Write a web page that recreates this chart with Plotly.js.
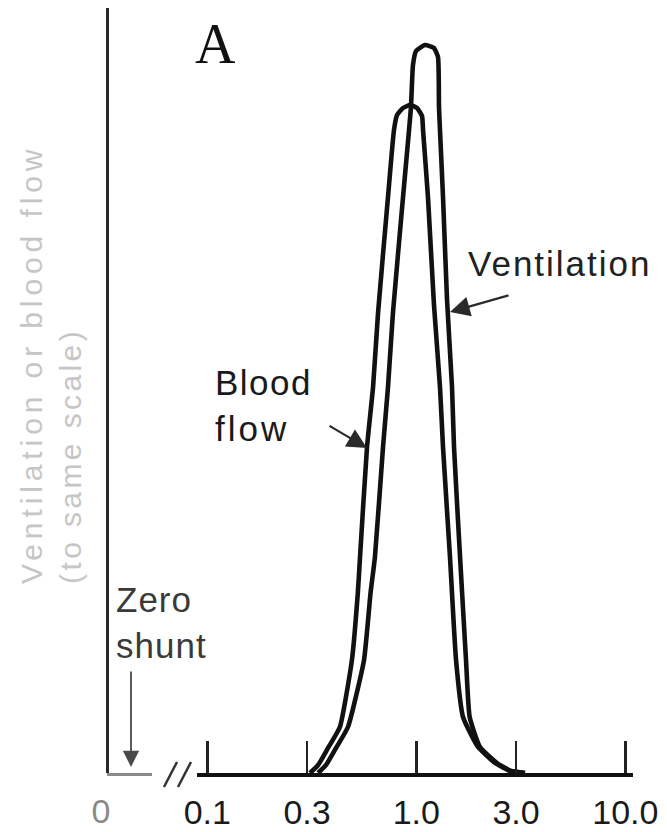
<!DOCTYPE html>
<html>
<head>
<meta charset="utf-8">
<script src="https://cdn.plot.ly/plotly-3.0.1.min.js"></script>
<style>
  html, body { margin: 0; padding: 0; background: #ffffff; }
  #chart { width: 667px; height: 832px; }
</style>
</head>
<body>
<div id="chart"></div>
<script>
// ---- Data ----
// x: ventilation-perfusion ratio (log scale); y: ventilation or blood flow (same arbitrary scale)
const ratioTickValues = [0.1, 0.3, 1, 3, 10];
const ratioTickLabels = ['0.1', '0.3', '1.0', '3.0', '10.0'];
const zeroTickValues = [0];
const zeroTickLabels = ['0'];

const bloodFlowRatio = [0.310, 0.339, 0.378, 0.431, 0.492, 0.525, 0.538, 0.581, 0.621,
                        0.656, 0.732, 0.782, 0.809, 0.864, 0.933, 1.008, 1.065, 1.077, 1.137,
                        1.215, 1.298, 1.342, 1.449, 1.549, 1.673, 1.974, 2.380, 2.808, 3.312];
const bloodFlowValue = [0, 1.05, 3.27, 6.01, 14.77, 23.53, 28.24, 42.61, 50.46,
                        60.13, 75.29, 84.05, 86.01, 86.93, 87.32, 86.93, 85.88, 84.05, 75.29,
                        61.18, 50.46, 42.61, 28.24, 14.77, 7.32, 3.40, 1.31, 0.26, 0];

const ventilationRatio = [0.339, 0.370, 0.413, 0.471, 0.562, 0.604, 0.634, 0.693, 0.732,
                          0.773, 0.864, 0.923, 0.943, 0.964, 0.997, 1.101, 1.215, 1.270, 1.284,
                          1.298, 1.342, 1.403, 1.482, 1.515, 1.619, 1.729, 1.800, 2.017, 2.433,
                          2.839, 3.312];
const ventilationValue = [0, 1.05, 3.27, 6.01, 14.77, 23.53, 28.24, 42.61, 50.46,
                          60.13, 75.29, 84.05, 87.06, 92.55, 94.38, 95.16, 94.77, 93.59, 87.06,
                          84.05, 75.29, 61.83, 50.46, 42.61, 28.24, 14.77, 7.32, 3.40, 1.31,
                          0.26, 0];

const labelText = {
  panel: 'A',
  yTitle1: 'Ventilation or blood flow',
  yTitle2: '(to same scale)',
  ventilation: 'Ventilation',
  bloodFlow: ['Blood', 'flow'],
  zeroShunt: ['Zero', 'shunt']
};

// ---- Layout helpers (pixel -> paper) ----
const W = 667, H = 832;
const px = v => v / W;
const py = v => (H - v) / H;
const FONT = '"Liberation Sans", Arial, Helvetica, sans-serif';
const ls = (t, s) => '<span style="letter-spacing:' + s + 'px">' + t + '</span>';

const lineStyle = { color: '#111111', width: 4.6, shape: 'spline', smoothing: 0.45 };

const traces = [
  { type: 'scatter', mode: 'lines', name: 'Blood flow', x: bloodFlowRatio, y: bloodFlowValue,
    xaxis: 'x', yaxis: 'y', line: lineStyle, hoverinfo: 'skip' },
  { type: 'scatter', mode: 'lines', name: 'Ventilation', x: ventilationRatio, y: ventilationValue,
    xaxis: 'x', yaxis: 'y', line: lineStyle, hoverinfo: 'skip' },
  { type: 'scatter', mode: 'lines', name: 'zero', x: [], y: [], xaxis: 'x2', yaxis: 'y', hoverinfo: 'skip' }
];

const tickFont = { family: FONT, size: 34, color: '#1a1a1a' };

const layout = {
  width: W, height: H,
  margin: { l: 0, r: 0, t: 0, b: 0, pad: 0 },
  paper_bgcolor: '#ffffff', plot_bgcolor: 'rgba(0,0,0,0)',
  showlegend: false,
  xaxis: {
    type: 'log', domain: [px(197), px(633)], range: [-1.0493, 1.0368], anchor: 'y',
    showgrid: false, zeroline: false,
    showline: true, linecolor: '#111111', linewidth: 4,
    ticks: 'inside', ticklen: 32, tickwidth: 2.5, tickcolor: '#222222',
    tickmode: 'array', tickvals: ratioTickValues, ticktext: ratioTickLabels,
    ticklabelstandoff: 6,
    tickfont: tickFont
  },
  xaxis2: {
    type: 'linear', domain: [px(107), px(152)], range: [-0.001, 1], anchor: 'y',
    showgrid: false, zeroline: false,
    showline: true, linecolor: '#8a8a8a', linewidth: 3,
    ticks: '', tickmode: 'array', tickvals: zeroTickValues, ticktext: zeroTickLabels,
    ticklabelshift: -6, ticklabelstandoff: 6,
    tickfont: { family: FONT, size: 34, color: '#8a8a8a' }
  },
  yaxis: {
    type: 'linear', domain: [py(773), py(8)], range: [0, 100],
    anchor: 'free', position: px(107),
    showgrid: false, zeroline: false, showticklabels: false, ticks: '',
    showline: true, linecolor: '#2a2a2a', linewidth: 3
  },
  shapes: [
    { type: 'line', xref: 'paper', yref: 'paper', x0: px(164), y0: py(787), x1: px(177), y1: py(762),
      line: { color: '#333333', width: 2.5 } },
    { type: 'line', xref: 'paper', yref: 'paper', x0: px(178), y0: py(787), x1: px(191), y1: py(762),
      line: { color: '#333333', width: 2.5 } }
  ],
  annotations: [
    { xref: 'paper', yref: 'paper', x: px(215), y: py(44), xanchor: 'center', yanchor: 'middle',
      text: labelText.panel, showarrow: false,
      font: { family: '"Liberation Serif", "Times New Roman", serif', size: 56, color: '#111111' } },
    { xref: 'paper', yref: 'paper', x: px(51), y: py(365), xanchor: 'center', yanchor: 'middle',
      textangle: -90, align: 'left', showarrow: false,
      text: ls(labelText.yTitle1, 4.9) + '<br>' + ls(labelText.yTitle2, 3.4),
      font: { family: FONT, size: 30, color: '#c6c6c6' } },
    { xref: 'paper', yref: 'paper', x: px(466), y: py(263), xanchor: 'left', yanchor: 'middle',
      text: ls(labelText.ventilation, 2), showarrow: false, align: 'left',
      font: { family: FONT, size: 35, color: '#222222' } },
    { xref: 'paper', yref: 'paper', x: px(213), y: py(405), xanchor: 'left', yanchor: 'middle',
      text: ls(labelText.bloodFlow[0], 1.5) + '<br>' + ls(labelText.bloodFlow[1], 3),
      showarrow: false, align: 'left',
      font: { family: FONT, size: 35, color: '#1a1a1a' } },
    { xref: 'paper', yref: 'paper', x: px(114), y: py(622), xanchor: 'left', yanchor: 'middle',
      text: ls(labelText.zeroShunt[0], 1) + '<br>' + ls(labelText.zeroShunt[1], 1),
      showarrow: false, align: 'left',
      font: { family: FONT, size: 35, color: '#3a3a3a' } },
    // arrows
    { xref: 'paper', yref: 'paper', x: px(367), y: py(448), ax: -39, ay: -23, text: '',
      showarrow: true, arrowhead: 2, arrowsize: 1.8, arrowwidth: 2.2, arrowcolor: '#2a2a2a', standoff: 0 },
    { xref: 'paper', yref: 'paper', x: px(450), y: py(312), ax: 60, ay: -17, text: '',
      showarrow: true, arrowhead: 2, arrowsize: 1.8, arrowwidth: 2.2, arrowcolor: '#2a2a2a', standoff: 0 },
    { xref: 'paper', yref: 'paper', x: px(131), y: py(767), ax: 0, ay: -97, text: '',
      showarrow: true, arrowhead: 2, arrowsize: 1.8, arrowwidth: 1.8, arrowcolor: '#4a4a4a', standoff: 0 }
  ]
};

Plotly.newPlot('chart', traces, layout, { staticPlot: true, displayModeBar: false });
</script>
</body>
</html>
